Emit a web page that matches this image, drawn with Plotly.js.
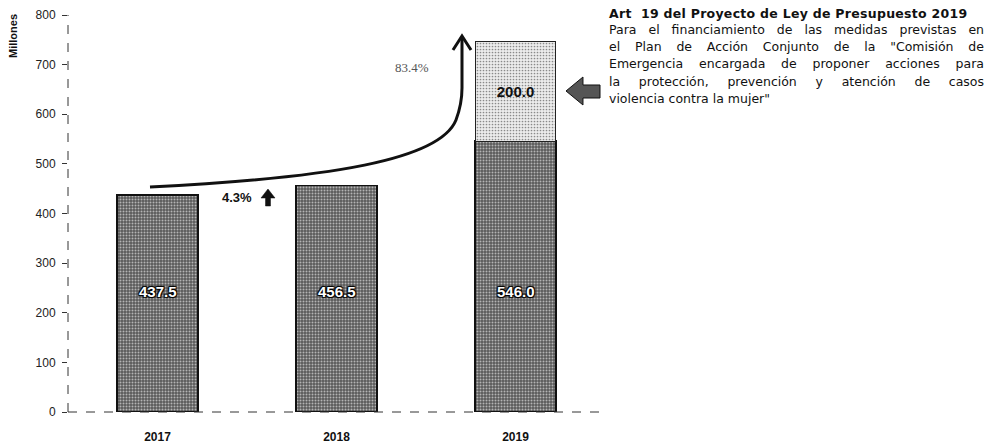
<!DOCTYPE html>
<html><head><meta charset="utf-8">
<script src="https://cdn.plot.ly/plotly-3.0.1.min.js"></script>
<style>body{margin:0;background:#fff}#c{width:988px;height:445px}</style>
</head><body><div id="c"></div>
<script>
const years = ['2017','2018','2019'];
const baseValues = [437.5, 456.5, 546.0];
const extraValues = [null, null, 200.0];
const yTicks = [0,100,200,300,400,500,600,700,800];
const growthLabels = ['4.3%', '83.4%'];
const noteTitle = 'Art  19 del Proyecto de Ley de Presupuesto 2019';
const noteLines = [
  'Para el financiamiento de las medidas previstas en',
  'el Plan de Acción Conjunto de la "Comisión de',
  'Emergencia encargada de proponer acciones para',
  'la protección, prevención y atención de casos',
  'violencia contra la mujer"'
];

const FONT = 'Liberation Sans, Arial, sans-serif';
const NOTE_FONT = 'DejaVu Sans';
// pixel -> paper helpers (plot area 68..605 x, 15..412 y)
const L=68, R=605, T=15, B=412;
const px = x => (x-L)/(R-L);
const py = y => (B-y)/(B-T);
const P = (x,y) => px(x).toFixed(4)+','+py(y).toFixed(4);

// text measuring for justified note block
const ctx = document.createElement('canvas').getContext('2d');
function measure(t, size, bold){ ctx.font = (bold?'bold ':'')+size+'px "'+NOTE_FONT+'"'; return ctx.measureText(t).width; }
const NOTE_SIZE = 12.5, NOTE_X = 607, NOTE_W = 375, TITLE_W = 358;
function justify(t){
  const sp = (t.match(/ /g)||[]).length;
  const ws = Math.max(0,(NOTE_W - measure(t, NOTE_SIZE, false))/sp);
  return '<span style="word-spacing:'+ws.toFixed(2)+'px">'+t+'</span>';
}
function spreadTitle(t){
  const ls = (TITLE_W - measure(t, NOTE_SIZE, true))/(t.length-1);
  return '<span style="letter-spacing:'+ls.toFixed(2)+'px">'+t+'</span>';
}

const traces = [
  {type:'bar', x:years, y:baseValues, name:'base',
   marker:{color:'#666', line:{color:'#111', width:1.5},
     pattern:{shape:'.', fgcolor:'#b4b4b4', bgcolor:'#5a5a5a', size:3, solidity:0.35}},
   hoverinfo:'skip'},
  {type:'bar', x:years, y:extraValues, name:'extra',
   text:extraValues.map(v=>v==null?'':v.toFixed(1)), textposition:'inside', insidetextanchor:'middle',
   textfont:{family:FONT, size:15, color:'#111', weight:'bold'},
   marker:{color:'#dcdcdc', line:{color:'#222', width:1},
     pattern:{shape:'.', fgcolor:'#8a8a8a', bgcolor:'#ececec', size:3, solidity:0.25}},
   hoverinfo:'skip'}
];

const annotations = [];
baseValues.forEach((v,i)=>{
  annotations.push({x:i, y:242, xref:'x', yref:'y', xanchor:'center', yanchor:'middle', text:v.toFixed(1), showarrow:false,
    font:{family:FONT, size:15, color:'#fff', weight:'bold',
      shadow:'1px 1px 1px #000, -1px -1px 1px #000, 1px -1px 1px #000, -1px 1px 1px #000'}});
});
annotations.push({xref:'paper', yref:'paper', x:px(237), y:py(197), xanchor:'center', yanchor:'middle', text:growthLabels[0], showarrow:false,
  font:{family:FONT, size:13, color:'#111', weight:'bold'}});
annotations.push({xref:'paper', yref:'paper', x:px(412), y:py(68), xanchor:'center', yanchor:'middle', text:growthLabels[1], showarrow:false,
  font:{family:'Liberation Serif, serif', size:13, color:'#555'}});
annotations.push({xref:'paper', yref:'paper', x:px(13), y:py(36), xanchor:'center', yanchor:'middle', text:'Millones', showarrow:false, textangle:-90,
  font:{family:FONT, size:11, color:'#111', weight:'bold'}});
annotations.push({xref:'paper', yref:'paper', x:px(NOTE_X), y:py(13), xanchor:'left', yanchor:'middle', text:spreadTitle(noteTitle), showarrow:false,
  font:{family:NOTE_FONT, size:NOTE_SIZE, color:'#111', weight:'bold'}});
noteLines.forEach((t,i)=>{
  const last = i===noteLines.length-1;
  annotations.push({xref:'paper', yref:'paper', x:px(NOTE_X), y:py(30+17*i), xanchor:'left', yanchor:'middle',
    text: last ? t : justify(t), showarrow:false,
    font:{family:NOTE_FONT, size:NOTE_SIZE, color:'#111'}});
});

const shapes = [
  // dashed axes
  {type:'line', xref:'paper', yref:'paper', x0:0, x1:0, y0:0, y1:1, line:{color:'#333', width:1, dash:'dash'}},
  {type:'line', xref:'paper', yref:'paper', x0:0, x1:1, y0:0, y1:0, line:{color:'#333', width:1, dash:'dash'}},
  // growth curve
  {type:'path', xref:'paper', yref:'paper',
   path:'M'+P(150,187)+' C'+P(330,178)+' '+P(440,160)+' '+P(456,120)+' Q'+P(462,104)+' '+P(462,88)+' L'+P(462,38),
   line:{color:'#111', width:3}},
  {type:'path', xref:'paper', yref:'paper',
   path:'M'+P(453,50)+' L'+P(462,36)+' L'+P(471,50),
   line:{color:'#111', width:3}},
  // small up arrow
  {type:'path', xref:'paper', yref:'paper',
   path:'M'+P(268,189)+' L'+P(275,198)+' L'+P(270.5,198)+' L'+P(270.5,206)+' L'+P(265.5,206)+' L'+P(265.5,198)+' L'+P(261,198)+' Z',
   fillcolor:'#111', line:{color:'#111', width:0.5}},
  // big left arrow
  {type:'path', xref:'paper', yref:'paper',
   path:'M'+P(566,91)+' L'+P(583,77)+' L'+P(583,85)+' L'+P(600,85)+' L'+P(600,98)+' L'+P(583,98)+' L'+P(583,105)+' Z',
   fillcolor:'#555', line:{color:'#111', width:1}}
];

const layout = {
  width:988, height:445, margin:{l:L, r:988-R, t:T, b:445-B},
  paper_bgcolor:'#fff', plot_bgcolor:'#fff', showlegend:false, barmode:'stack', bargap:0.55,
  xaxis:{type:'category', range:[-0.5,2.5], showgrid:false, zeroline:false, showline:false, ticks:'',
    ticklabelstandoff:16,
    tickfont:{family:FONT, size:12, color:'#111', weight:'bold'}},
  yaxis:{range:[0,800], tickvals:yTicks, showgrid:false, zeroline:false, showline:false,
    ticks:'outside', ticklen:5, tickcolor:'#333', ticklabelstandoff:4,
    tickfont:{family:FONT, size:12, color:'#222'}},
  annotations, shapes
};
Plotly.newPlot('c', traces, layout, {staticPlot:true, displayModeBar:false});
</script></body></html>
